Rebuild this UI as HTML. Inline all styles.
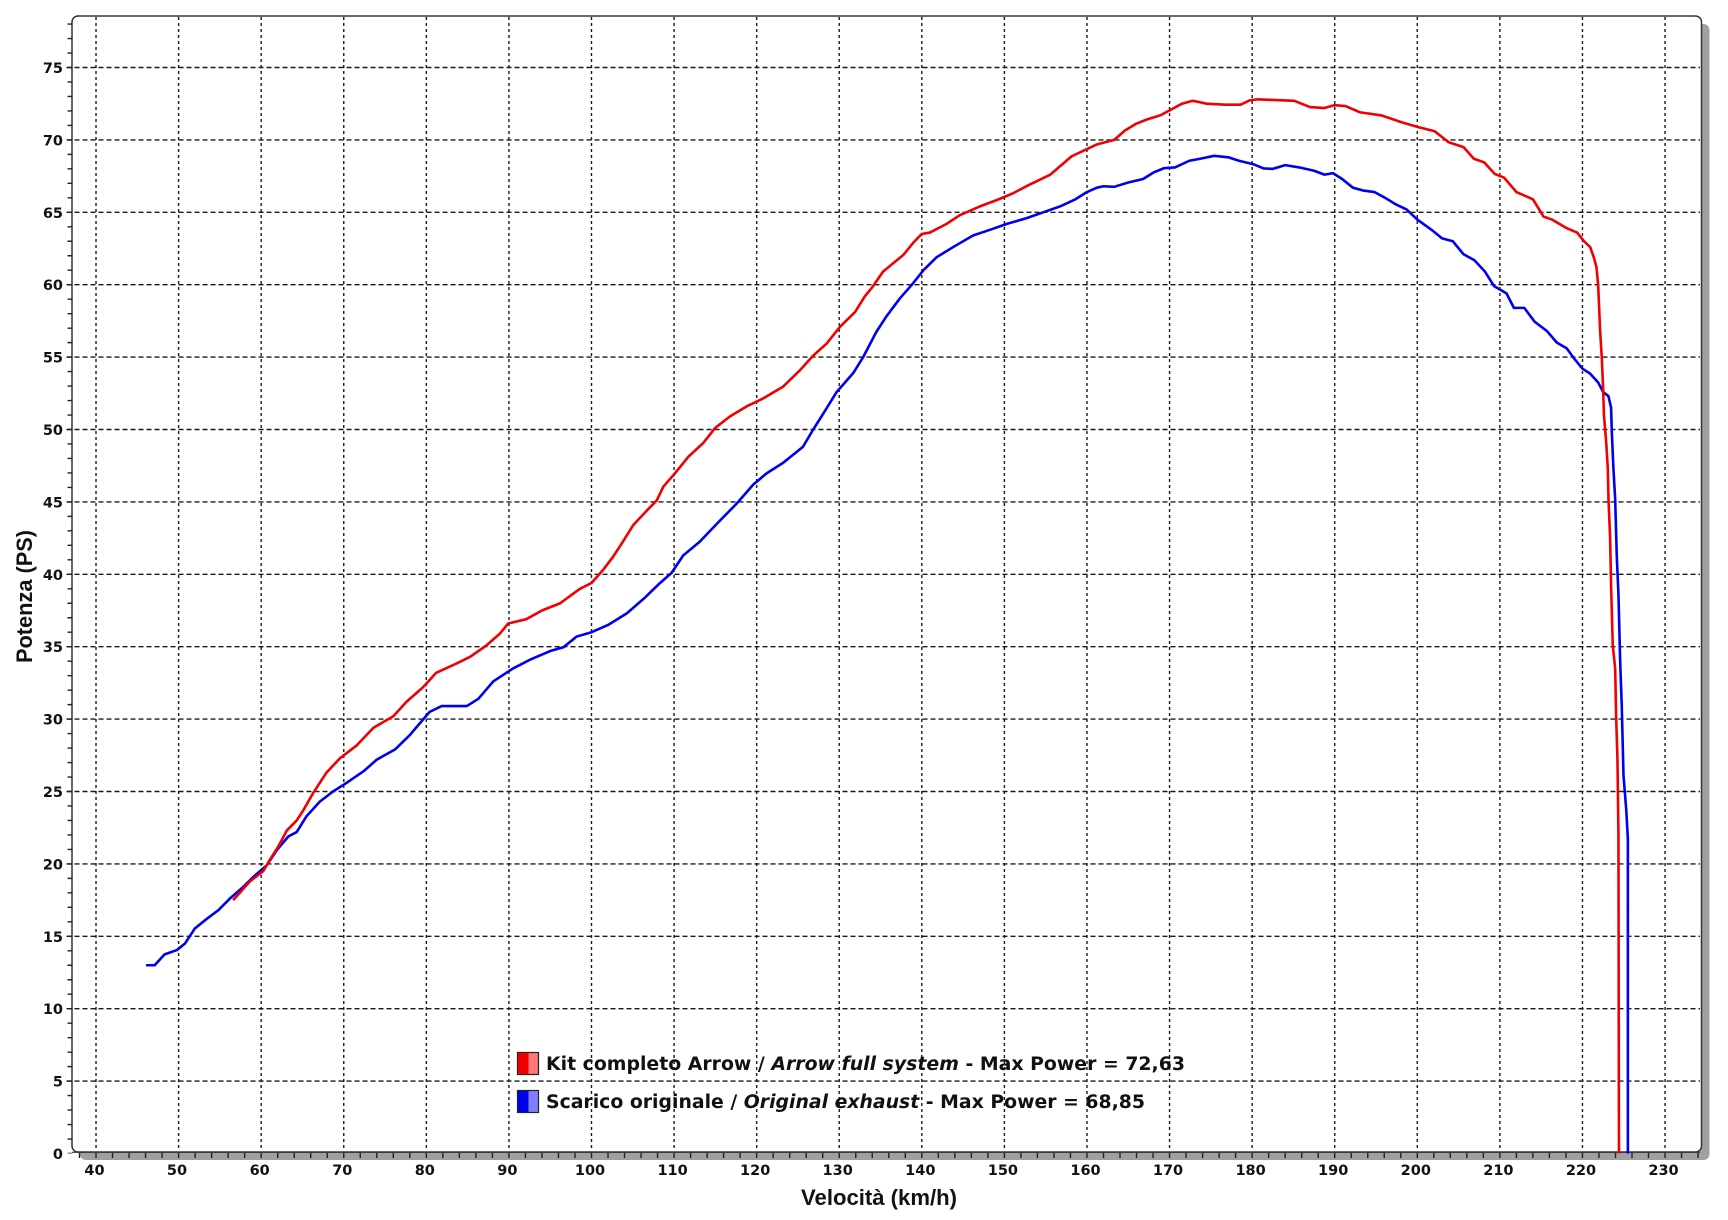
<!DOCTYPE html>
<html><head><meta charset="utf-8"><style>
html,body{margin:0;padding:0;background:#fff;}
svg{display:block;}
.tk{font-family:"DejaVu Sans","Liberation Sans",sans-serif;font-weight:bold;font-size:14.5px;fill:#111;}
.lg{font-family:"DejaVu Sans","Liberation Sans",sans-serif;font-weight:bold;font-size:18.5px;fill:#111;}
.ttl{font-family:"Liberation Sans","DejaVu Sans",sans-serif;font-weight:bold;font-size:22px;fill:#111;}
</style></head><body>
<svg width="1728" height="1220" viewBox="0 0 1728 1220" xmlns="http://www.w3.org/2000/svg">
<rect width="1728" height="1220" fill="#fff"/>
<!-- frame shadow + frame -->
<rect x="80" y="24" width="1629.5" height="1136" rx="6" fill="#a0a0a0"/>
<rect x="72" y="16" width="1629.5" height="1136" rx="6" fill="#fff" stroke="#333" stroke-width="1.5"/>

<!-- vertical grid -->
<g stroke="#1a1a1a" stroke-width="1.4" stroke-dasharray="3 3">
<line x1="96.02" y1="17" x2="96.02" y2="1151"/>
<line x1="178.6" y1="17" x2="178.6" y2="1151"/>
<line x1="261.18" y1="17" x2="261.18" y2="1151"/>
<line x1="343.76" y1="17" x2="343.76" y2="1151"/>
<line x1="426.34" y1="17" x2="426.34" y2="1151"/>
<line x1="508.92" y1="17" x2="508.92" y2="1151"/>
<line x1="591.5" y1="17" x2="591.5" y2="1151"/>
<line x1="674.08" y1="17" x2="674.08" y2="1151"/>
<line x1="756.66" y1="17" x2="756.66" y2="1151"/>
<line x1="839.24" y1="17" x2="839.24" y2="1151"/>
<line x1="921.82" y1="17" x2="921.82" y2="1151"/>
<line x1="1004.4" y1="17" x2="1004.4" y2="1151"/>
<line x1="1086.98" y1="17" x2="1086.98" y2="1151"/>
<line x1="1169.56" y1="17" x2="1169.56" y2="1151"/>
<line x1="1252.14" y1="17" x2="1252.14" y2="1151"/>
<line x1="1334.72" y1="17" x2="1334.72" y2="1151"/>
<line x1="1417.3" y1="17" x2="1417.3" y2="1151"/>
<line x1="1499.88" y1="17" x2="1499.88" y2="1151"/>
<line x1="1582.46" y1="17" x2="1582.46" y2="1151"/>
<line x1="1665.04" y1="17" x2="1665.04" y2="1151"/>
</g>
<!-- horizontal grid -->
<g stroke="#1a1a1a" stroke-width="1.4" stroke-dasharray="5 3">
<line x1="66.5" y1="1081.1" x2="1700" y2="1081.1"/>
<line x1="66.5" y1="1008.7" x2="1700" y2="1008.7"/>
<line x1="66.5" y1="936.3" x2="1700" y2="936.3"/>
<line x1="66.5" y1="863.9" x2="1700" y2="863.9"/>
<line x1="66.5" y1="791.5" x2="1700" y2="791.5"/>
<line x1="66.5" y1="719.1" x2="1700" y2="719.1"/>
<line x1="66.5" y1="646.7" x2="1700" y2="646.7"/>
<line x1="66.5" y1="574.3" x2="1700" y2="574.3"/>
<line x1="66.5" y1="501.9" x2="1700" y2="501.9"/>
<line x1="66.5" y1="429.5" x2="1700" y2="429.5"/>
<line x1="66.5" y1="357.1" x2="1700" y2="357.1"/>
<line x1="66.5" y1="284.7" x2="1700" y2="284.7"/>
<line x1="66.5" y1="212.3" x2="1700" y2="212.3"/>
<line x1="66.5" y1="139.9" x2="1700" y2="139.9"/>
<line x1="66.5" y1="67.5" x2="1700" y2="67.5"/>
</g>
<!-- y minor ticks -->
<line x1="69.8" y1="1153.5" x2="69.8" y2="20" stroke="#222" stroke-width="4.6" stroke-dasharray="1.4 13.08" stroke-dashoffset="0.7"/>
<!-- x ticks -->
<line x1="78.8" y1="1155.5" x2="1700" y2="1155.5" stroke="#222" stroke-width="5" stroke-dasharray="1.4 15.116"/>
<line x1="72" y1="1152.3" x2="1700" y2="1152.3" stroke="#333" stroke-width="1.2"/>

<!-- y labels -->
<g class="tk" text-anchor="end">
<text x="63" y="1159">0</text>
<text x="63" y="1086.6">5</text>
<text x="63" y="1014.2">10</text>
<text x="63" y="941.8">15</text>
<text x="63" y="869.4">20</text>
<text x="63" y="797">25</text>
<text x="63" y="724.6">30</text>
<text x="63" y="652.2">35</text>
<text x="63" y="579.8">40</text>
<text x="63" y="507.4">45</text>
<text x="63" y="435">50</text>
<text x="63" y="362.6">55</text>
<text x="63" y="290.2">60</text>
<text x="63" y="217.8">65</text>
<text x="63" y="145.4">70</text>
<text x="63" y="73">75</text>
</g>
<!-- x labels -->
<g class="tk" text-anchor="middle">
<text x="94.5" y="1175">40</text>
<text x="177" y="1175">50</text>
<text x="259.7" y="1175">60</text>
<text x="342.3" y="1175">70</text>
<text x="424.8" y="1175">80</text>
<text x="507.4" y="1175">90</text>
<text x="590" y="1175">100</text>
<text x="672.6" y="1175">110</text>
<text x="755.2" y="1175">120</text>
<text x="837.7" y="1175">130</text>
<text x="920.3" y="1175">140</text>
<text x="1002.9" y="1175">150</text>
<text x="1085.5" y="1175">160</text>
<text x="1168" y="1175">170</text>
<text x="1250.6" y="1175">180</text>
<text x="1333.2" y="1175">190</text>
<text x="1415.8" y="1175">200</text>
<text x="1498.4" y="1175">210</text>
<text x="1581" y="1175">220</text>
<text x="1663.5" y="1175">230</text>
</g>

<!-- axis titles -->
<text class="ttl" x="879" y="1205" text-anchor="middle" textLength="156" lengthAdjust="spacingAndGlyphs">Velocità (km/h)</text>
<text class="ttl" transform="translate(32,596.5) rotate(-90)" text-anchor="middle" textLength="133" lengthAdjust="spacingAndGlyphs">Potenza (PS)</text>

<!-- curves -->
<g transform="matrix(8.258 0 0 -14.48 -234.3 1153.5)" fill="none" stroke-linejoin="round" stroke-linecap="butt">
<path vector-effect="non-scaling-stroke" stroke="#0000f0" stroke-width="2.6" d="M46.05 13 L47.1 13 48.3 13.75 49.8 14.05 50.77 14.5 51.98 15.55 53.4 16.2 54.8 16.8 56.2 17.6 57.8 18.4 59.05 19.1 60.67 19.9 61.9 20.96 63.3 21.9 64.3 22.2 65.5 23.3 67.1 24.3 68.7 25 70.35 25.6 72.4 26.4 74 27.2 76.2 27.9 78 28.9 79.2 29.7 80.4 30.5 81.85 30.9 84.9 30.9 86.3 31.4 88.1 32.6 90.5 33.5 92.55 34.1 95 34.7 96.6 34.96 98.2 35.7 100 36 102 36.5 104.27 37.3 106.3 38.3 108.3 39.4 109.7 40.1 111.1 41.3 113.1 42.25 115.2 43.5 117.6 44.9 119.6 46.2 121.2 46.97 123.2 47.7 125.6 48.8 126.85 50 128.07 51.1 129.7 52.6 131.7 53.9 132.9 55 134.5 56.75 135.7 57.8 137.35 59.06 138.8 60 140.2 61 141.8 61.9 143.8 62.6 146.2 63.4 148.3 63.8 150.3 64.2 152.7 64.6 154.7 65 156.7 65.4 158.6 65.9 160 66.4 161.2 66.7 162 66.8 163.3 66.76 165 67.06 166.8 67.3 168.06 67.75 169.35 68.05 170.65 68.1 172.4 68.56 173.7 68.7 175.4 68.9 177.1 68.8 178.4 68.56 180.1 68.33 181.4 68.03 182.5 68 184 68.26 185.7 68.1 187.5 67.87 188.75 67.6 189.8 67.7 190.9 67.3 192.2 66.7 193.5 66.5 194.8 66.4 196.1 66 197.4 65.55 198.7 65.2 200 64.5 201.7 63.8 203 63.2 204.3 63 205.6 62.1 206.9 61.7 208.2 60.9 209.3 59.9 210.8 59.4 211.7 58.4 212.96 58.4 214.2 57.45 215.7 56.8 216.9 56 218.1 55.6 218.9 54.97 220 54.2 220.93 53.86 221.9 53.25 222.5 52.6 223.15 52.3 223.47 51.5 223.55 49.9 223.75 47.3 223.96 45.2 224.16 41.2 224.36 38.6 224.56 34.1 224.76 30.9 224.97 26.1 225.3 23.75 225.5 21.7 225.5 0"/>
<path vector-effect="non-scaling-stroke" stroke="#f00000" stroke-width="2.6" d="M56.6 17.5 L57.4 18 58.65 18.8 60.25 19.5 61.07 20.3 62.07 21.2 63.1 22.3 64.3 23 65.1 23.7 66.3 24.9 67.9 26.3 69.55 27.3 71.6 28.2 73.6 29.4 76 30.2 77.6 31.2 79.6 32.2 81.2 33.2 83.7 33.85 85.3 34.3 87.3 35.1 88.9 35.9 89.9 36.6 92.1 36.9 94 37.5 96.2 38 98.6 39 100 39.4 101.4 40.3 102.6 41.2 103.8 42.25 105.06 43.4 106.7 44.4 107.9 45.1 108.7 46.05 110.1 46.97 111.7 48.1 113.5 49.05 114.96 50.1 116.75 50.9 118.8 51.6 120.8 52.15 123.2 52.96 125.25 54.1 126.85 55.1 128.5 55.95 130.1 57.1 131.9 58.1 133.1 59.2 134.1 59.9 135.3 60.9 137.75 62.05 138.97 62.9 139.98 63.5 140.98 63.6 143 64.2 144.6 64.8 147 65.4 149.1 65.85 151 66.3 153 66.9 155.56 67.6 158.15 68.87 160 69.37 161.16 69.68 163.3 70 164.6 70.65 165.9 71.1 167.2 71.4 168.9 71.7 170.2 72.1 171.5 72.5 172.8 72.7 173.7 72.6 174.5 72.5 176.7 72.43 178.6 72.43 179.7 72.73 180.6 72.8 185.1 72.7 187 72.27 188.75 72.2 190 72.4 191.3 72.34 193.1 71.9 195.6 71.7 198.2 71.2 200 70.9 202.1 70.6 203.8 69.84 205.6 69.5 206.85 68.7 208.1 68.45 209.4 67.64 210.5 67.4 212 66.4 214 65.9 215.3 64.7 216.3 64.5 218.1 63.9 219.35 63.6 220.2 63 220.93 62.6 221.4 61.85 221.7 61.2 221.9 60 222.14 56.8 222.34 54.97 222.5 52.86 222.6 51 222.87 49.15 223.07 47.3 223.15 45.2 223.35 42.5 223.47 39.1 223.67 35.1 223.96 33.5 224.08 30.1 224.24 27.2 224.36 21.9 224.42 0"/>
</g>

<!-- legend -->
<rect x="517.5" y="1052.5" width="21" height="22" fill="#ff7676" stroke="#222" stroke-width="1.2"/>
<rect x="518" y="1053" width="10.5" height="21" fill="#f00000"/>
<rect x="517.5" y="1090.5" width="21" height="22" fill="#8080ff" stroke="#222" stroke-width="1.2"/>
<rect x="518" y="1091" width="10.5" height="21" fill="#0000f0"/>
<text class="lg" x="546" y="1070" textLength="639" lengthAdjust="spacingAndGlyphs">Kit completo Arrow / <tspan font-style="italic">Arrow full system</tspan> - Max Power = 72,63</text>
<text class="lg" x="546" y="1108" textLength="599" lengthAdjust="spacingAndGlyphs">Scarico originale / <tspan font-style="italic">Original exhaust</tspan> - Max Power = 68,85</text>
</svg>
</body></html>
